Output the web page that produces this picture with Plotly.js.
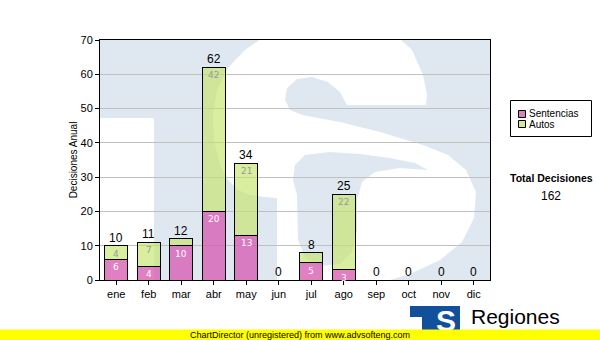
<!DOCTYPE html>
<html>
<head>
<meta charset="utf-8">
<script src="https://cdn.plot.ly/plotly-3.0.1.min.js"></script>
<style>
  html, body { margin: 0; padding: 0; background: #ffffff; }
  #chart { width: 600px; height: 340px; }
</style>
</head>
<body>
<div id="chart"></div>
<script>
// ---- data ----
const months = ['ene', 'feb', 'mar', 'abr', 'may', 'jun', 'jul', 'ago', 'sep', 'oct', 'nov', 'dic'];
const sentencias = [6, 4, 10, 20, 13, 0, 5, 3, 0, 0, 0, 0];
const autos = [4, 7, 2, 42, 21, 0, 3, 22, 0, 0, 0, 0];
const seriesNames = ['Sentencias', 'Autos'];
const yAxisTitle = 'Decisiones Anual';
const totalTitle = 'Total Decisiones';
const logoText = 'Regiones';
const footerText = 'ChartDirector (unregistered) from www.advsofteng.com';

const totals = months.map((m, i) => sentencias[i] + autos[i]);
const grandTotal = totals.reduce((a, b) => a + b, 0);

// ---- styling ----
const FONT = 'Liberation Sans, Arial, sans-serif';
const pinkFill = 'rgba(214,92,178,0.78)';
const greenFill = 'rgba(196,228,100,0.62)';
const pinkSolid = '#dc80c2';
const greenSolid = '#d2ea96';
const wmBlue = '#dfe8f1';

// layout geometry (pixels)
const L = 100, R = 110, T = 40, B = 60, PW = 390, PH = 240;
const px = x => (x - L) / PW;
const py = y => (T + PH - y) / PH;
const path = pts => 'M ' + pts.map(p => px(p[0]).toFixed(4) + ',' + py(p[1]).toFixed(4)).join(' L ') + ' Z';

// watermark ("TS" logo) shapes, drawn in the plot area
const sOutline = [
  [426,105],[347,105],[340,92],[328,82],[312,77],[297,79],[287,88],[285,100],[290,110],[302,115],
  [340,122],[380,132],[423,145],[448,155],[466,170],[476,192],[474,218],[462,242],[440,260],
  [410,274],[380,283],[340,292],[300,300],[277,300],[277,198],[265,197],[250,195],[238,190],
  [228,180],[220,165],[214,140],[213,115],[217,90],[228,68],[245,50],[265,36],[300,26],[350,22],
  [390,30],[412,50],[423,75],[427,95]
];
const sCounter = [
  [297,195],[298,240],[305,258],[320,266],[340,264],[352,252],[357,230],[357,200],[362,182],
  [375,172],[400,168],[428,170],[415,163],[390,158],[360,154],[330,152],[305,155],[295,165],[293,180]
];
const shapes = [
  {type: 'rect', xref: 'x domain', yref: 'y domain', x0: 0, x1: 1, y0: 0, y1: 1,
   fillcolor: wmBlue, line: {width: 0}, layer: 'below'},
  {type: 'rect', xref: 'x domain', yref: 'y domain', x0: px(100), x1: px(154), y0: py(280), y1: py(118),
   fillcolor: '#ffffff', line: {width: 0}, layer: 'below'},
  {type: 'path', xref: 'x domain', yref: 'y domain', path: path(sOutline),
   fillcolor: '#ffffff', line: {width: 0}, layer: 'below'},
  {type: 'path', xref: 'x domain', yref: 'y domain', path: path(sCounter),
   fillcolor: wmBlue, line: {width: 0}, layer: 'below'},
  // legend box
  {type: 'rect', xref: 'paper', yref: 'paper', x0: px(510.5), x1: px(591.5), y0: py(136.5), y1: py(100.5),
   fillcolor: '#ffffff', line: {color: '#000000', width: 1}},
  {type: 'rect', xref: 'paper', yref: 'paper', x0: px(518.5), x1: px(525.5), y0: py(117.5), y1: py(110.5),
   fillcolor: pinkSolid, line: {color: '#000000', width: 1}},
  {type: 'rect', xref: 'paper', yref: 'paper', x0: px(518.5), x1: px(525.5), y0: py(127.5), y1: py(120.5),
   fillcolor: greenSolid, line: {color: '#000000', width: 1}},
  // logo icon
  {type: 'rect', xref: 'paper', yref: 'paper', x0: px(410), x1: px(460), y0: py(338), y1: py(306),
   fillcolor: '#13509b', line: {width: 0}},
  {type: 'rect', xref: 'paper', yref: 'paper', x0: px(410), x1: px(422), y0: py(338), y1: py(317),
   fillcolor: '#ffffff', line: {width: 0}}
];

// ---- annotations (labels from data) ----
const annotations = [];
months.forEach((m, i) => {
  annotations.push({x: m, y: totals[i], xref: 'x', yref: 'y', text: String(totals[i]),
    showarrow: false, yanchor: 'bottom', yshift: -1, font: {family: FONT, size: 12, color: '#000000'}});
  if (sentencias[i] > 0) {
    annotations.push({x: m, y: sentencias[i], xref: 'x', yref: 'y', text: String(sentencias[i]),
      showarrow: false, yanchor: 'top', yshift: -1, font: {family: 'DejaVu Sans, sans-serif', size: 9, color: '#ffffff'}});
  }
  if (autos[i] > 3) {
    annotations.push({x: m, y: totals[i], xref: 'x', yref: 'y', text: String(autos[i]),
      showarrow: false, yanchor: 'top', yshift: -1, font: {family: 'DejaVu Sans, sans-serif', size: 9, color: '#9a9a9a'}});
  }
});
annotations.push(
  {x: px(527), y: py(113.5), xref: 'paper', yref: 'paper', text: seriesNames[0], showarrow: false,
   xanchor: 'left', yanchor: 'middle', font: {family: FONT, size: 10, color: '#000000'}},
  {x: px(527), y: py(124.5), xref: 'paper', yref: 'paper', text: seriesNames[1], showarrow: false,
   xanchor: 'left', yanchor: 'middle', font: {family: FONT, size: 10, color: '#000000'}},
  {x: px(551), y: py(178), xref: 'paper', yref: 'paper', text: '<b>' + totalTitle + '</b>', showarrow: false,
   xanchor: 'center', yanchor: 'middle', font: {family: FONT, size: 10.5, color: '#000000'}},
  {x: px(551), y: py(196), xref: 'paper', yref: 'paper', text: String(grandTotal), showarrow: false,
   xanchor: 'center', yanchor: 'middle', font: {family: FONT, size: 12, color: '#000000'}},
  {x: px(446), y: py(320), xref: 'paper', yref: 'paper', text: '<b>S</b>', showarrow: false,
   xanchor: 'center', yanchor: 'middle', font: {family: FONT, size: 30, color: '#ffffff'}},
  {x: px(469), y: py(316), xref: 'paper', yref: 'paper', text: logoText, showarrow: false,
   xanchor: 'left', yanchor: 'middle', font: {family: FONT, size: 21, color: '#000000'}},
  {x: px(300), y: py(335), xref: 'paper', yref: 'paper', text: footerText, showarrow: false,
   xanchor: 'center', yanchor: 'middle', width: 600, height: 10, borderpad: 0, bgcolor: '#ffff00',
   font: {family: FONT, size: 9, color: '#000000'}}
);

const traces = [
  {type: 'bar', name: seriesNames[0], x: months, y: sentencias,
   marker: {color: pinkFill, line: {color: '#000000', width: 1}}, hoverinfo: 'x+y+name'},
  {type: 'bar', name: seriesNames[1], x: months, y: autos,
   marker: {color: greenFill, line: {color: '#000000', width: 1}}, hoverinfo: 'x+y+name'}
];

const layout = {
  width: 600, height: 340, autosize: false,
  margin: {l: L, r: R, t: T, b: B, pad: 0},
  paper_bgcolor: '#ffffff', plot_bgcolor: 'rgba(0,0,0,0)',
  barmode: 'stack', bargap: 0.29, showlegend: false,
  font: {family: FONT, size: 11, color: '#000000'},
  xaxis: {type: 'category', categoryorder: 'array', categoryarray: months, range: [-0.5, 11.5],
    showline: true, linecolor: '#000000', linewidth: 1, mirror: true,
    ticks: 'outside', ticklen: 4, tickcolor: '#000000', showgrid: false,
    tickfont: {family: FONT, size: 11, color: '#000000'}},
  yaxis: {range: [0, 70], dtick: 10, showline: true, linecolor: '#000000', linewidth: 1, mirror: true,
    ticks: 'outside', ticklen: 4, tickcolor: '#000000', showgrid: true, gridcolor: '#c0c0c0', gridwidth: 1,
    zeroline: false, tickfont: {family: FONT, size: 11, color: '#000000'},
    title: {text: yAxisTitle, standoff: 1, font: {family: FONT, size: 10, color: '#000000'}}},
  shapes: shapes,
  annotations: annotations
};

Plotly.newPlot('chart', traces, layout, {displayModeBar: false, staticPlot: true});
</script>
</body>
</html>
